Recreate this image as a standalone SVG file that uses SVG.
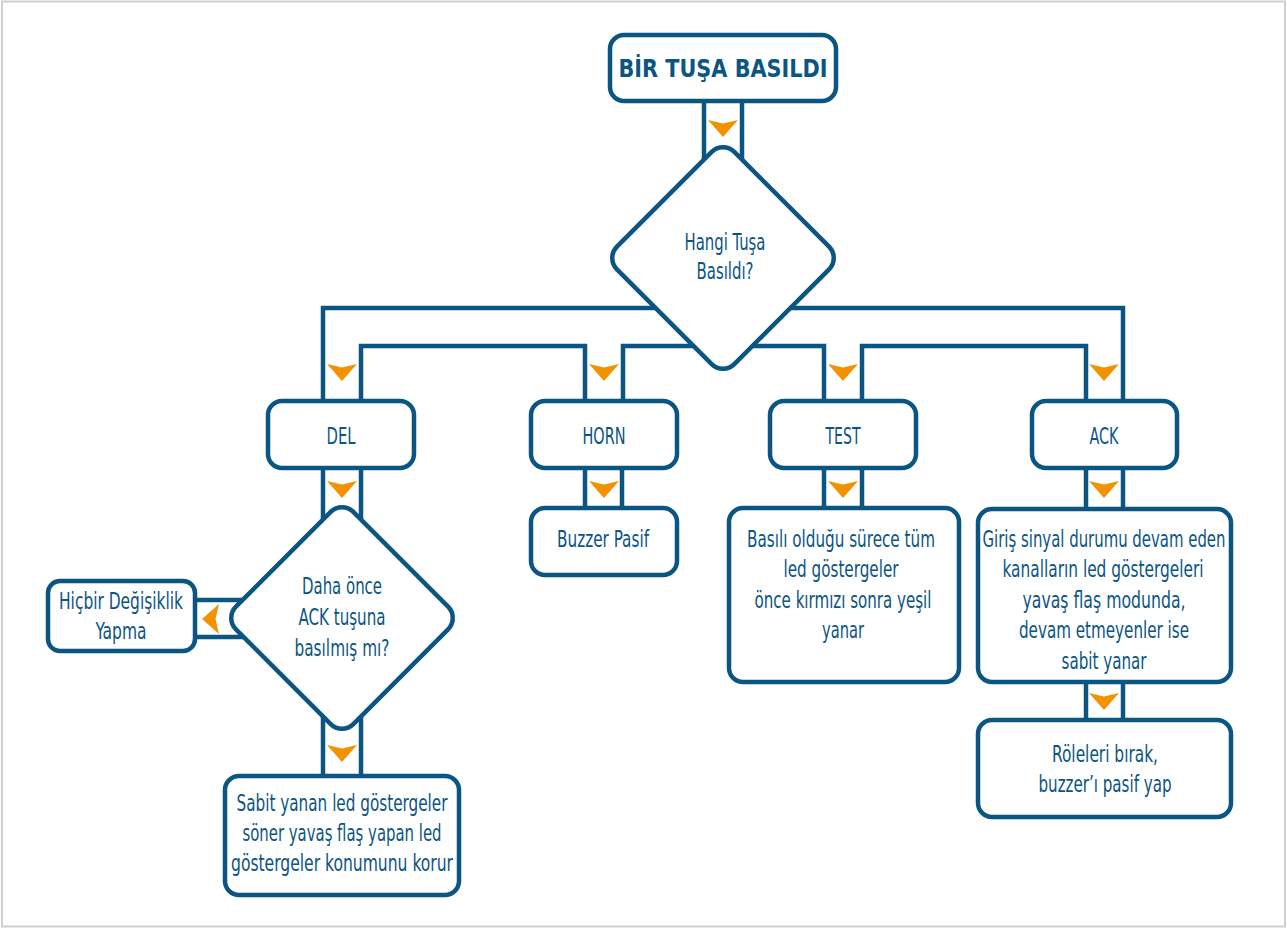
<svg xmlns="http://www.w3.org/2000/svg" xmlns:xlink="http://www.w3.org/1999/xlink" width="1287" height="929" viewBox="0 0 1287 929">
<style>
.frame{fill:#fff;stroke:#cfcfcf;stroke-width:2}
.c{fill:none;stroke:#0b5583;stroke-width:4.5;stroke-linejoin:miter}
.n{fill:#fff;stroke:#0b5583;stroke-width:4.5}
.t{font-family:'Liberation Sans Narrow','DejaVu Sans Condensed','Liberation Sans',sans-serif;font-size:23px;fill:#0b5583;text-anchor:middle}
.b{font-weight:bold;font-size:25px}
.a{fill:#f39200}
</style>
<defs>
<path id="ar" d="M-15,0 L0,3.5 L15,0 L0,17 Z"/>
</defs>
<rect class="frame" x="2" y="1.5" width="1283" height="925"/>
<g id="connectors">
<line class="c" x1="704" y1="100" x2="704" y2="175"/>
<line class="c" x1="742" y1="100" x2="742" y2="175"/>
<polyline class="c" points="323,402 323,308 1123,308 1123,402"/>
<polyline class="c" points="361,402 361,346 585,346 585,402"/>
<polyline class="c" points="623,402 623,346 824,346 824,402"/>
<polyline class="c" points="862,402 862,346 1086,346 1086,402"/>
<line class="c" x1="323" y1="466" x2="323" y2="540"/>
<line class="c" x1="361" y1="466" x2="361" y2="540"/>
<line class="c" x1="193" y1="600" x2="270" y2="600"/>
<line class="c" x1="193" y1="637" x2="270" y2="637"/>
<line class="c" x1="323" y1="700" x2="323" y2="777"/>
<line class="c" x1="361" y1="700" x2="361" y2="777"/>
<line class="c" x1="585" y1="466" x2="585" y2="508"/>
<line class="c" x1="622" y1="466" x2="622" y2="508"/>
<line class="c" x1="824" y1="466" x2="824" y2="508"/>
<line class="c" x1="862" y1="466" x2="862" y2="508"/>
<line class="c" x1="1086" y1="466" x2="1086" y2="509"/>
<line class="c" x1="1123" y1="466" x2="1123" y2="509"/>
<line class="c" x1="1086" y1="681" x2="1086" y2="720"/>
<line class="c" x1="1123" y1="681" x2="1123" y2="720"/>
<use xlink:href="#ar" href="#ar" class="a" transform="translate(723,120)"/>
<use xlink:href="#ar" href="#ar" class="a" transform="translate(342,364)"/>
<use xlink:href="#ar" href="#ar" class="a" transform="translate(604,364)"/>
<use xlink:href="#ar" href="#ar" class="a" transform="translate(843,364)"/>
<use xlink:href="#ar" href="#ar" class="a" transform="translate(1104,364)"/>
<use xlink:href="#ar" href="#ar" class="a" transform="translate(342,481)"/>
<use xlink:href="#ar" href="#ar" class="a" transform="translate(604,481)"/>
<use xlink:href="#ar" href="#ar" class="a" transform="translate(843,481)"/>
<use xlink:href="#ar" href="#ar" class="a" transform="translate(1104,481)"/>
<use xlink:href="#ar" href="#ar" class="a" transform="translate(342,745)"/>
<use xlink:href="#ar" href="#ar" class="a" transform="translate(1104,693)"/>
<use xlink:href="#ar" href="#ar" class="a" transform="translate(219,619) rotate(90)"/>
</g>
<g id="start">
<rect class="n" x="610" y="35" width="226" height="66" rx="14"/>
<text class="t b" x="723" y="77" textLength="209" lengthAdjust="spacingAndGlyphs">BİR TUŞA BASILDI</text>
</g>
<g id="decision1">
<rect class="n" x="-83" y="-83" width="166" height="166" rx="16" transform="translate(723,258) rotate(45)"/>
<text class="t" x="725" y="250" textLength="81" lengthAdjust="spacingAndGlyphs">Hangi Tuşa</text>
<text class="t" x="725" y="279" textLength="57" lengthAdjust="spacingAndGlyphs">Basıldı?</text>
</g>
<g id="del">
<rect class="n" x="268" y="401" width="146" height="67" rx="14"/>
<text class="t" x="341" y="444" textLength="29" lengthAdjust="spacingAndGlyphs">DEL</text>
</g>
<g id="horn">
<rect class="n" x="531" y="401" width="146" height="67" rx="14"/>
<text class="t" x="604" y="444" textLength="43" lengthAdjust="spacingAndGlyphs">HORN</text>
</g>
<g id="test">
<rect class="n" x="770" y="401" width="146" height="67" rx="14"/>
<text class="t" x="843" y="444" textLength="35" lengthAdjust="spacingAndGlyphs">TEST</text>
</g>
<g id="ack">
<rect class="n" x="1032" y="401" width="145" height="67" rx="14"/>
<text class="t" x="1104" y="444" textLength="29" lengthAdjust="spacingAndGlyphs">ACK</text>
</g>
<g id="decision2">
<rect class="n" x="-83" y="-83" width="166" height="166" rx="16" transform="translate(342,618) rotate(45)"/>
<text class="t" x="342" y="594" textLength="80" lengthAdjust="spacingAndGlyphs">Daha önce</text>
<text class="t" x="342" y="625" textLength="87" lengthAdjust="spacingAndGlyphs">ACK tuşuna</text>
<text class="t" x="342" y="656" textLength="95" lengthAdjust="spacingAndGlyphs">basılmış mı?</text>
</g>
<g id="nochange">
<rect class="n" x="48" y="581" width="147" height="70" rx="12"/>
<text class="t" x="121" y="609" textLength="124" lengthAdjust="spacingAndGlyphs">Hiçbir Değişiklik</text>
<text class="t" x="121" y="639" textLength="51" lengthAdjust="spacingAndGlyphs">Yapma</text>
</g>
<g id="keep">
<rect class="n" x="225" y="776" width="234" height="119" rx="14"/>
<text class="t" x="342" y="811" textLength="211" lengthAdjust="spacingAndGlyphs">Sabit yanan led göstergeler</text>
<text class="t" x="342" y="841" textLength="199" lengthAdjust="spacingAndGlyphs">söner yavaş flaş yapan led</text>
<text class="t" x="342" y="871" textLength="222" lengthAdjust="spacingAndGlyphs">göstergeler konumunu korur</text>
</g>
<g id="buzzer">
<rect class="n" x="531" y="508" width="146" height="67" rx="14"/>
<text class="t" x="603" y="547" textLength="92" lengthAdjust="spacingAndGlyphs">Buzzer Pasif</text>
</g>
<g id="testaction">
<rect class="n" x="729" y="508" width="230" height="174" rx="14"/>
<text class="t" x="841" y="547" textLength="188" lengthAdjust="spacingAndGlyphs">Basılı olduğu sürece tüm</text>
<text class="t" x="841" y="577" textLength="115" lengthAdjust="spacingAndGlyphs">led göstergeler</text>
<text class="t" x="843" y="608" textLength="177" lengthAdjust="spacingAndGlyphs">önce kırmızı sonra yeşil</text>
<text class="t" x="843" y="638" textLength="42" lengthAdjust="spacingAndGlyphs">yanar</text>
</g>
<g id="ackaction">
<rect class="n" x="978" y="509" width="253" height="173" rx="14"/>
<text class="t" x="1104" y="547" textLength="243" lengthAdjust="spacingAndGlyphs">Giriş sinyal durumu devam eden</text>
<text class="t" x="1103" y="577" textLength="201" lengthAdjust="spacingAndGlyphs">kanalların led göstergeleri</text>
<text class="t" x="1104" y="608" textLength="163" lengthAdjust="spacingAndGlyphs">yavaş flaş modunda,</text>
<text class="t" x="1104" y="638" textLength="170" lengthAdjust="spacingAndGlyphs">devam etmeyenler ise</text>
<text class="t" x="1104" y="669" textLength="85" lengthAdjust="spacingAndGlyphs">sabit yanar</text>
</g>
<g id="release">
<rect class="n" x="978" y="720" width="253" height="97" rx="14"/>
<text class="t" x="1105" y="762" textLength="106" lengthAdjust="spacingAndGlyphs">Röleleri bırak,</text>
<text class="t" x="1105" y="792" textLength="133" lengthAdjust="spacingAndGlyphs">buzzer’ı pasif yap</text>
</g>
</svg>
